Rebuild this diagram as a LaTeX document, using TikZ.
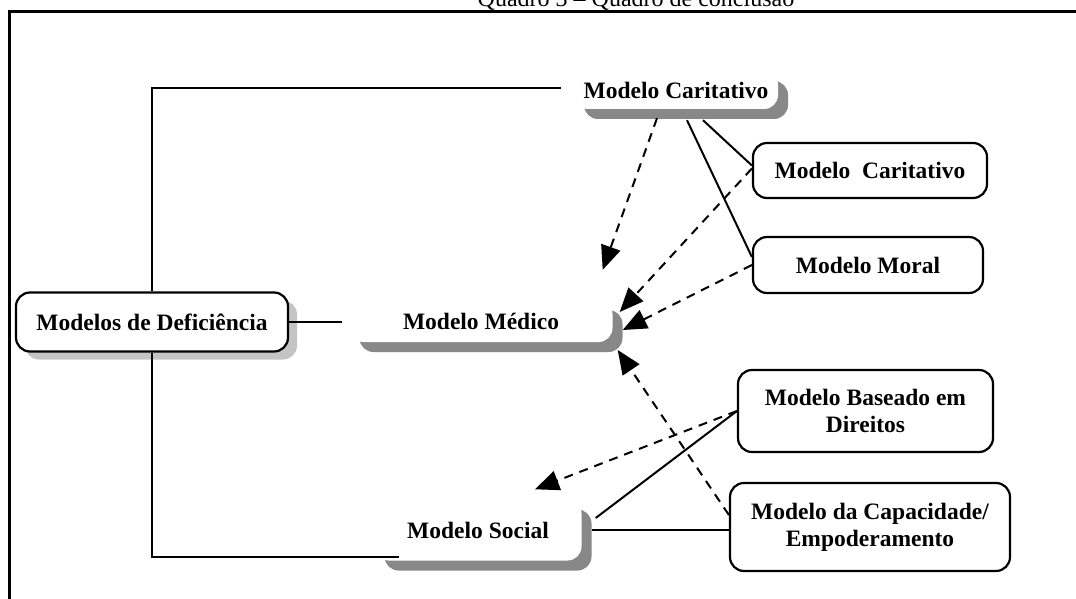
\documentclass[tikz,border=0pt]{standalone}
\usepackage{fontspec}
\setmainfont{Liberation Serif}
\usepackage{tikz}
\usetikzlibrary{positioning,arrows.meta,shadows}
\tikzstyle{pixelGrid} = [x = 1pt, y = -1pt]
\definecolor{shadowGray}{RGB}{136,136,136}
\definecolor{softGray}{RGB}{196,196,196}
\tikzstyle{boxText} = [font=\fontsize{23.5}{27}\selectfont\bfseries, align=center, inner sep=0pt]
\tikzstyle{modelBox} = [boxText, draw=black, line width=2.2pt, fill=white, rounded corners=14pt]
\tikzstyle{mainBox} = [modelBox, drop shadow={shadow xshift=9pt, shadow yshift=-8pt, fill=softGray, opacity=1}]
\tikzstyle{shadowBox} = [boxText, fill=white, rounded corners=14pt, drop shadow={shadow xshift=10pt, shadow yshift=-10pt, fill=shadowGray, opacity=1}]
\tikzstyle{linkLine} = [line width=2pt]
\tikzstyle{dashLink} = [line width=2pt, dash pattern=on 9pt off 7pt, -{Triangle[length=24pt, width=20pt]}]
\newcommand{\modelNode}[5]{\node [modelBox, minimum width=#3, minimum height=#4] (#1) at (#2) {#5};}
\newcommand{\shadowNode}[5]{\node [shadowBox, minimum width=#3, minimum height=#4] (#1) at (#2) {#5};}
\begin{document}
\begin{tikzpicture}[pixelGrid]
        \useasboundingbox (0,0) rectangle (1076,599);
        % frame and title
        \draw [line width=3pt] (1080,12) -- (9,12) -- (9,605);
        \node [font=\fontsize{24}{28}\selectfont, anchor=base, inner sep=0pt] (title) at (636,7) {Quadro 3 -- Quadro de conclusão};

        \node [mainBox, minimum width=272pt, minimum height=59pt] (defModelo) at (152,322) {Modelos de Deficiência};
        \shadowNode{caritativoTop}{676,90}{204pt}{38pt}{Modelo Caritativo}
        \shadowNode{medico}{481,321}{263pt}{42pt}{Modelo Médico}
        \shadowNode{social}{478,530}{207pt}{61pt}{Modelo Social}

        \modelNode{caritativo}{870,170.5}{234pt}{55pt}{Modelo\ \ Caritativo}
        \modelNode{moral}{868,265}{230pt}{56pt}{Modelo Moral}
        \modelNode{direitos}{865.5,411}{255pt}{82pt}{Modelo Baseado em\\Direitos}
        \modelNode{capacidade}{870,527}{280pt}{88pt}{Modelo da Capacidade/\\Empoderamento}

        % solid links
        \draw [linkLine, shorten >=13pt] (defModelo.north) |- ([yshift=2pt]caritativoTop.west);
        \draw [linkLine] (defModelo.south) |- ([xshift=25pt, yshift=4pt]social.south west);
        \draw [linkLine, shorten >=7pt] (defModelo.east) -- (medico.west |- defModelo.east);
        \draw [linkLine] ([xshift=27pt, yshift=-11pt]caritativoTop.south) -- ([yshift=5pt]caritativo.west);
        \draw [linkLine] ([xshift=11pt, yshift=-11pt]caritativoTop.south) -- ([yshift=8pt]moral.west);
        \draw [linkLine] ([xshift=14pt, yshift=12pt]social.east) -- (direitos.west);
        \draw [linkLine] ([xshift=10pt]social.east) -- (social.east -| capacidade.west);

        % dashed arrows
        \draw [dashLink] ([xshift=-19pt, yshift=-9pt]caritativoTop.south) -- ([xshift=-10pt, yshift=30pt]medico.north east);
        \draw [dashLink] ([yshift=2pt]caritativo.west) -- ([xshift=7pt, yshift=9pt]medico.east);
        \draw [dashLink] (moral.west) -- ([xshift=10pt, yshift=-9pt]medico.east);
        \draw [dashLink] ([yshift=12pt]capacidade.west) -- ([xshift=5pt, yshift=-29pt]medico.east);
        \draw [dashLink] (direitos.west) -- ([xshift=57pt, yshift=10pt]social.north);
      \end{tikzpicture}
\end{document}
